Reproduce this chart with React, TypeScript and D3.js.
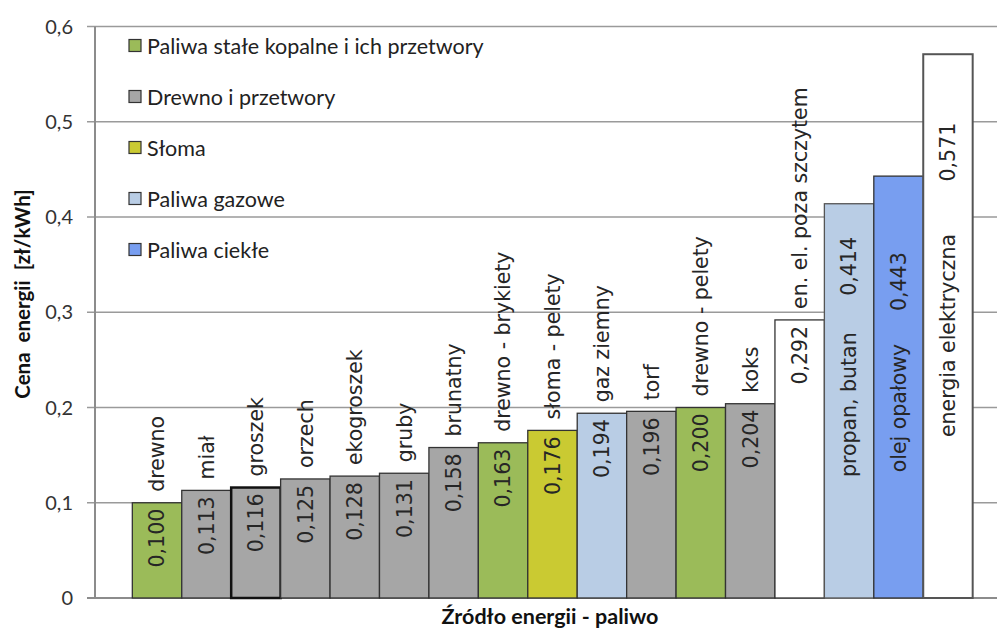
import React from "react";
import * as d3 from "d3";

const categories = [
  "drewno", "miał", "groszek", "orzech", "ekogroszek", "gruby", "brunatny",
  "drewno - brykiety", "słoma - pelety", "gaz ziemny", "torf", "drewno - pelety",
  "koks", "en. el. poza szczytem", "propan, butan", "olej opałowy", "energia elektryczna",
];
const values = [
  0.100, 0.113, 0.116, 0.125, 0.128, 0.131, 0.158, 0.163, 0.176, 0.194, 0.196,
  0.200, 0.204, 0.292, 0.414, 0.443, 0.571,
];
// group of each bar
const groups = [
  "stale", "drewno", "drewno", "drewno", "drewno", "drewno", "drewno", "stale",
  "sloma", "gaz", "drewno", "stale", "drewno", "el", "gaz", "ciekle", "el",
];
const legendKeys = ["stale", "drewno", "sloma", "gaz", "ciekle"];
const legendLabels = [
  "Paliwa stałe kopalne i ich przetwory",
  "Drewno i przetwory",
  "Słoma",
  "Paliwa gazowe",
  "Paliwa ciekłe",
];
const yTicks = [0, 0.1, 0.2, 0.3, 0.4, 0.5, 0.6];
const yTickLabels = ["0", "0,1", "0,2", "0,3", "0,4", "0,5", "0,6"];

const colors: Record<string, string> = {
  stale: "#9BBB59",
  drewno: "#A6A6A6",
  sloma: "#CACA32",
  gaz: "#B9CDE5",
  ciekle: "#789EF0",
  el: "#FFFFFF",
};
// label layout for bars whose labels sit inside the bar (in value units):
// [category start, value end]
const insideLabelPos: Record<string, [number, number]> = {
  "propan, butan": [0.127, 0.379],
  "olej opałowy": [0.132, 0.363],
  "energia elektryczna": [0.169, 0.499],
};

const W = 997;
const H = 630;
const fmt = (v: number) => v.toFixed(3).replace(".", ",");

export default function App() {
  const x = d3.scaleBand<string>().domain(categories).range([95, 1010]).paddingInner(0).paddingOuter(0.755);
  const y = d3.scaleLinear().domain([0, 0.6]).range([598, 26.6]);
  const labelFont = "'DejaVu Sans', Verdana, sans-serif";
  const uiFont = "Lato, 'Open Sans', sans-serif";
  const fs = 20.5;
  const labelFill = "#262626";

  const rotText = (key: string, cx: number, py: number, anchor: string, s: string) => (
    <text
      key={key}
      transform={`translate(${cx},${py}) rotate(-90)`}
      dy="0.36em"
      textAnchor={anchor}
      fontFamily={labelFont}
      fontSize={fs}
      fill={labelFill}
    >
      {s}
    </text>
  );

  return (
    <svg width={W} height={H} style={{ position: "absolute", left: 0, top: 0, background: "#fff" }}>
      {/* gridlines */}
      {yTicks.map((t, i) => (
        <g key={"g" + i}>
          <line x1={87} x2={1010} y1={y(t)} y2={y(t)} stroke={i === 0 ? "#8c8c8c" : "#9a9a9a"} strokeWidth={i === 0 ? 2 : 1.5} />
          <text x={73} y={y(t)} dy="0.35em" textAnchor="end" fontFamily={uiFont} fontSize={20} fill="#333">
            {yTickLabels[i]}
          </text>
        </g>
      ))}
      {/* y axis line */}
      <line x1={95} x2={95} y1={y(0.6)} y2={y(0)} stroke="#8c8c8c" strokeWidth={2} />

      {/* bars */}
      {categories.map((c, i) => {
        const v = values[i];
        const x0 = x(c)!;
        const bw = x.bandwidth();
        const thick = c === "groszek";
        const isEl = c === "energia elektryczna";
        return (
          <rect
            key={"b" + i}
            x={x0}
            y={y(v)}
            width={bw}
            height={y(0) - y(v)}
            fill={colors[groups[i]]}
            stroke={thick ? "#111" : isEl || c === "propan, butan" ? "#555" : "#333"}
            strokeWidth={thick ? 2.5 : isEl ? 2 : 1.3}
          />
        );
      })}

      {/* labels */}
      {categories.map((c, i) => {
        const v = values[i];
        const cx = x(c)! + x.bandwidth() / 2;
        const top = y(v);
        const inside = insideLabelPos[c];
        if (inside !== undefined) {
          return (
            <g key={"l" + i}>
              {rotText("c", cx, y(inside[0]), "start", c)}
              {rotText("v", cx, y(inside[1]), "end", fmt(v))}
            </g>
          );
        }
        return (
          <g key={"l" + i}>
            {rotText("v", cx, top + 6, "end", fmt(v))}
            {rotText("c", cx, top - 11, "start", c)}
          </g>
        );
      })}

      {/* legend */}
      {legendKeys.map((k, i) => {
        const cy = 46 + i * 51;
        return (
          <g key={"lg" + i}>
            <rect x={129} y={cy - 6.5} width={12} height={12} fill={colors[k]} stroke="#333" strokeWidth={1.2} />
            <text x={147} y={cy} dy="0.35em" fontFamily={uiFont} fontSize={21.5} fill="#222">
              {legendLabels[i]}
            </text>
          </g>
        );
      })}

      {/* axis titles */}
      <text
        transform={`translate(23,294) rotate(-90)`}
        dy="0.35em"
        textAnchor="middle"
        fontFamily={uiFont}
        fontSize={20.5}
        fontWeight="bold"
        fill="#111"
        style={{ whiteSpace: "pre" }}
      >
        {"Cena  energii  [zł/kWh]"}
      </text>
      <text x={550} y={624} textAnchor="middle" fontFamily={uiFont} fontSize={21.5} fontWeight="bold" fill="#111">
        Źródło energii - paliwo
      </text>
    </svg>
  );
}
